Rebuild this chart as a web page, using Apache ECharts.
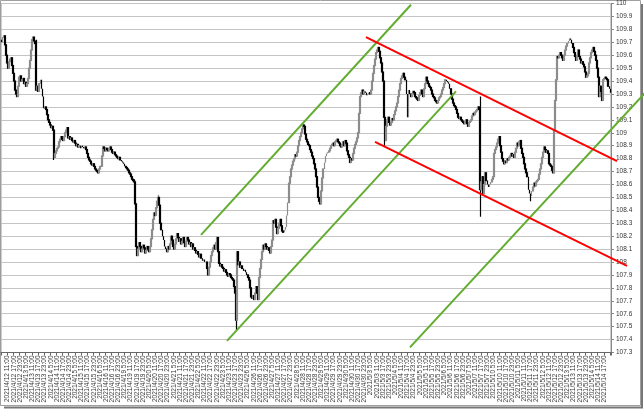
<!DOCTYPE html>
<html><head><meta charset="utf-8">
<script src="https://cdn.jsdelivr.net/npm/echarts@6/dist/echarts.min.js"></script>
<style>html,body{margin:0;padding:0;background:#fff}#c{width:644px;height:411px}</style>
</head><body><div id="c"></div>
<script>
const tradingDays = ['2021/4/12','2021/4/13','2021/4/14','2021/4/15','2021/4/16','2021/4/19','2021/4/20','2021/4/21','2021/4/22','2021/4/23','2021/4/26','2021/4/27','2021/4/28','2021/4/29','2021/4/30','2021/5/3','2021/5/4','2021/5/5','2021/5/6','2021/5/7','2021/5/10','2021/5/11','2021/5/12','2021/5/13','2021/5/14'];
const firstHour = 5;
const firstOpen = 109.72;
const closes = [
109.70,109.74,109.75,109.68,109.60,109.54,109.50,109.55,109.57,109.58,
109.52,109.46,109.40,109.33,109.30,109.28,109.36,109.43,109.44,109.40,
109.41,109.42,109.38,109.39,109.36,109.38,109.42,109.50,109.56,109.64,
109.72,109.74,109.71,109.69,109.33,109.36,109.32,109.38,109.41,109.34,
109.28,109.19,109.20,109.18,109.14,109.10,109.08,109.06,109.04,109.05,
109.02,108.81,108.84,108.86,108.88,108.89,108.93,108.95,108.97,108.95,
108.94,108.97,109.00,109.02,109.04,108.96,108.97,108.95,108.96,108.94,
108.93,108.94,108.92,108.90,108.91,108.89,108.90,108.88,108.90,108.89,
108.88,108.89,108.87,108.84,108.81,108.79,108.78,108.76,108.75,108.76,
108.74,108.72,108.71,108.70,108.69,108.72,108.74,108.74,108.82,108.89,
108.88,108.86,108.88,108.87,108.86,108.88,108.89,108.87,108.85,108.84,
108.85,108.83,108.82,108.81,108.80,108.81,108.79,108.78,108.77,108.76,
108.74,108.73,108.72,108.71,108.69,108.68,108.66,108.64,108.63,108.62,
108.45,108.12,108.05,108.10,108.15,108.12,108.08,108.10,108.13,108.11,
108.07,108.09,108.12,108.10,108.08,108.12,108.18,108.25,108.33,108.38,
108.36,108.42,108.47,108.50,108.44,108.30,108.25,108.20,108.17,108.12,
108.10,108.08,108.12,108.10,108.14,108.20,108.17,108.12,108.10,108.14,
108.18,108.22,108.19,108.16,108.18,108.14,108.16,108.19,108.15,108.12,
108.16,108.19,108.17,108.14,108.15,108.12,108.14,108.10,108.11,108.09,
108.07,108.08,108.06,108.04,108.06,108.03,108.01,108.02,108.00,108.00,
107.95,107.90,107.96,108.00,108.05,108.08,108.11,108.13,108.10,108.15,
108.19,108.08,107.99,107.97,107.98,107.96,107.95,107.93,107.94,107.92,
107.90,107.89,107.91,107.90,107.88,107.87,107.86,107.81,107.76,107.55,
108.08,107.98,108.00,107.96,107.97,107.95,107.93,107.94,107.92,107.90,
107.88,107.86,107.80,107.73,107.72,107.74,107.71,107.76,107.81,107.76,
107.71,107.88,107.95,108.02,108.08,108.13,108.10,108.14,108.12,108.10,
108.11,108.09,108.07,108.12,108.17,108.32,108.30,108.33,108.27,108.22,
108.26,108.30,108.33,108.28,108.24,108.23,108.25,108.27,108.36,108.46,
108.61,108.66,108.72,108.75,108.78,108.80,108.83,108.82,108.85,108.90,
108.94,108.97,109.00,109.03,109.06,109.05,108.99,108.95,108.93,108.91,
108.90,108.87,108.85,108.82,108.80,108.76,108.72,108.66,108.58,108.50,
108.47,108.45,108.55,108.65,108.72,108.77,108.82,108.84,108.85,108.86,
108.88,108.90,108.91,108.92,108.90,108.93,108.94,108.95,108.93,108.92,
108.90,108.89,108.91,108.93,108.90,108.94,108.92,108.86,108.83,108.81,
108.77,108.80,108.79,108.84,108.88,108.91,108.93,108.96,109.00,109.15,
109.28,109.31,109.33,109.30,109.32,109.31,109.29,109.30,109.31,109.30,
109.33,109.40,109.46,109.52,109.57,109.62,109.64,109.66,109.63,109.58,
109.54,109.47,109.40,109.12,108.94,109.05,109.10,109.12,109.08,109.06,
109.08,109.11,109.10,109.14,109.17,109.20,109.23,109.28,109.33,109.38,
109.42,109.44,109.46,109.43,109.41,109.30,109.12,109.33,109.30,109.28,
109.30,109.32,109.31,109.28,109.27,109.26,109.25,109.29,109.31,109.33,
109.30,109.28,109.34,109.38,109.43,109.40,109.38,109.36,109.35,109.33,
109.30,109.28,109.27,109.25,109.24,109.23,109.25,109.27,109.28,109.30,
109.33,109.35,109.38,109.41,109.40,109.39,109.38,109.34,109.30,109.26,
109.23,109.21,109.20,109.18,109.15,109.12,109.11,109.12,109.10,109.09,
109.08,109.07,109.09,109.10,109.07,109.05,109.08,109.09,109.10,109.13,
109.15,109.14,109.16,109.17,109.18,109.20,109.18,108.56,108.62,108.66,
108.53,108.60,108.69,108.63,108.60,108.58,108.60,108.62,108.64,108.66,
108.84,108.87,108.89,108.92,108.95,108.97,108.90,108.85,108.80,108.78,
108.76,108.78,108.77,108.80,108.79,108.81,108.82,108.84,108.82,108.83,
108.81,108.85,108.88,108.92,108.90,108.93,108.94,108.88,108.84,108.81,
108.76,108.72,108.69,108.66,108.56,108.53,108.51,108.55,108.58,108.61,
108.59,108.62,108.63,108.64,108.68,108.72,108.76,108.81,108.85,108.89,
108.87,108.85,108.86,108.84,108.76,108.75,108.74,108.71,108.69,109.02,
109.25,109.41,109.59,109.58,109.60,109.62,109.60,109.58,109.56,109.60,
109.64,109.67,109.69,109.71,109.73,109.72,109.69,109.66,109.62,109.59,
109.56,109.60,109.64,109.59,109.57,109.54,109.55,109.53,109.51,109.47,
109.43,109.44,109.46,109.54,109.58,109.62,109.64,109.66,109.63,109.60,
109.56,109.50,109.43,109.28,109.36,109.32,109.25,109.41,109.42,109.43,
109.42,109.41,109.36,109.34,109.31
];
// notable wicks: [candle index, low, high]
const wickExtremes = [[229,107.47,null],[467,108.35,109.28],[516,108.47,null],[374,108.90,null],[153,null,108.52],[34,null,109.72],[51,108.79,null],[130,null,108.64]];
// trend lines: [x (candle position), price]
const greenLines = [
  [[195.1,108.21],[399.9,109.99]],
  [[220.4,107.39],[443.8,109.32]],
  [[398.9,107.34],[640.0,109.41]]
];
const redLines = [
  [[356.0,109.74],[600.9,108.78]],
  [[364.8,108.93],[610.6,107.97]]
];
const yMin = 107.3, yMax = 110, yStep = 0.1;

const W = 644, H = 411;
const G = {left:1, right:33, top:3.5, bottom:58.5};
const plotW = W - G.left - G.right, plotH = H - G.top - G.bottom;
const n = closes.length;
// overlay axes spanning the whole canvas with the same scale as the plot
const ovX = [-G.left * n / plotW, n + G.right * n / plotW];
const ovY = [yMin - G.bottom * (yMax - yMin) / plotH, yMax + G.top * (yMax - yMin) / plotH];

const categories = [];
tradingDays.forEach((d, k) => {
  for (let h = (k === 0 ? firstHour : 0); h < 24; h++) categories.push(d + ' ' + h + ':00');
});
const candles = closes.map((c, i) => {
  const o = i === 0 ? firstOpen : closes[i - 1];
  return [o, c, Math.min(o, c), Math.max(o, c)];
});
wickExtremes.forEach(([i, lo, hi]) => {
  if (lo != null) candles[i][2] = Math.min(candles[i][2], lo);
  if (hi != null) candles[i][3] = Math.max(candles[i][3], hi);
});

const lineSeries = [];
greenLines.forEach(l => lineSeries.push({type:'line', xAxisIndex:1, yAxisIndex:1, data:l, symbol:'none', clip:false, silent:true,
  lineStyle:{color:'#62ad2f', width:2}, z:5}));
redLines.forEach(l => lineSeries.push({type:'line', xAxisIndex:1, yAxisIndex:1, data:l, symbol:'none', clip:false, silent:true,
  lineStyle:{color:'#ff0000', width:2}, z:5}));

const chart = echarts.init(document.getElementById('c'), null, {renderer:'canvas'});
chart.setOption({
  animation:false,
  backgroundColor:'#fff',
  grid:[
    {left:G.left, right:G.right, top:G.top, bottom:G.bottom, show:true, borderColor:'#999', borderWidth:1, outerBoundsMode:'none'},
    {left:0, right:0, top:0, bottom:0, outerBoundsMode:'none'}
  ],
  xAxis:[{
    type:'category', data:categories, boundaryGap:true, gridIndex:0,
    axisLine:{lineStyle:{color:'#666', width:1}},
    axisTick:{show:true, interval:5, length:3, lineStyle:{color:'#666'}},
    axisLabel:{interval:5, rotate:90, fontSize:6.5, color:'#3a3a3a', margin:3, fontFamily:'Liberation Sans'},
    splitLine:{show:false}
  },{
    type:'value', gridIndex:1, min:ovX[0], max:ovX[1], show:false
  }],
  yAxis:[{
    type:'value', gridIndex:0, position:'right', min:yMin, max:yMax, interval:yStep,
    axisLine:{show:true, lineStyle:{color:'#888'}},
    axisTick:{show:true, length:3, lineStyle:{color:'#888'}},
    axisLabel:{fontSize:6.5, color:'#333', margin:5, fontFamily:'Liberation Sans'},
    splitLine:{show:true, lineStyle:{color:'#c4c4c4', width:1}}
  },{
    type:'value', gridIndex:1, min:ovY[0], max:ovY[1], show:false
  }],
  series:[{
    type:'candlestick', data:candles, barWidth:1.4, xAxisIndex:0, yAxisIndex:0,
    itemStyle:{color:'#9a9a9a', color0:'#000', borderColor:'#8c8c8c', borderColor0:'#000', borderWidth:1.2}
  }].concat(lineSeries),
  graphic:[
    {type:'rect', shape:{x:0.5, y:0.5, width:640, height:405}, style:{fill:null, stroke:'#a0a0a0', lineWidth:1}, z:-1},
    {type:'line', shape:{x1:642, y1:4, x2:642, y2:408}, style:{stroke:'#777', lineWidth:2}, z:-1},
    {type:'line', shape:{x1:4, y1:407.5, x2:643, y2:407.5}, style:{stroke:'#777', lineWidth:2}, z:-1}
  ]
});
</script></body></html>
